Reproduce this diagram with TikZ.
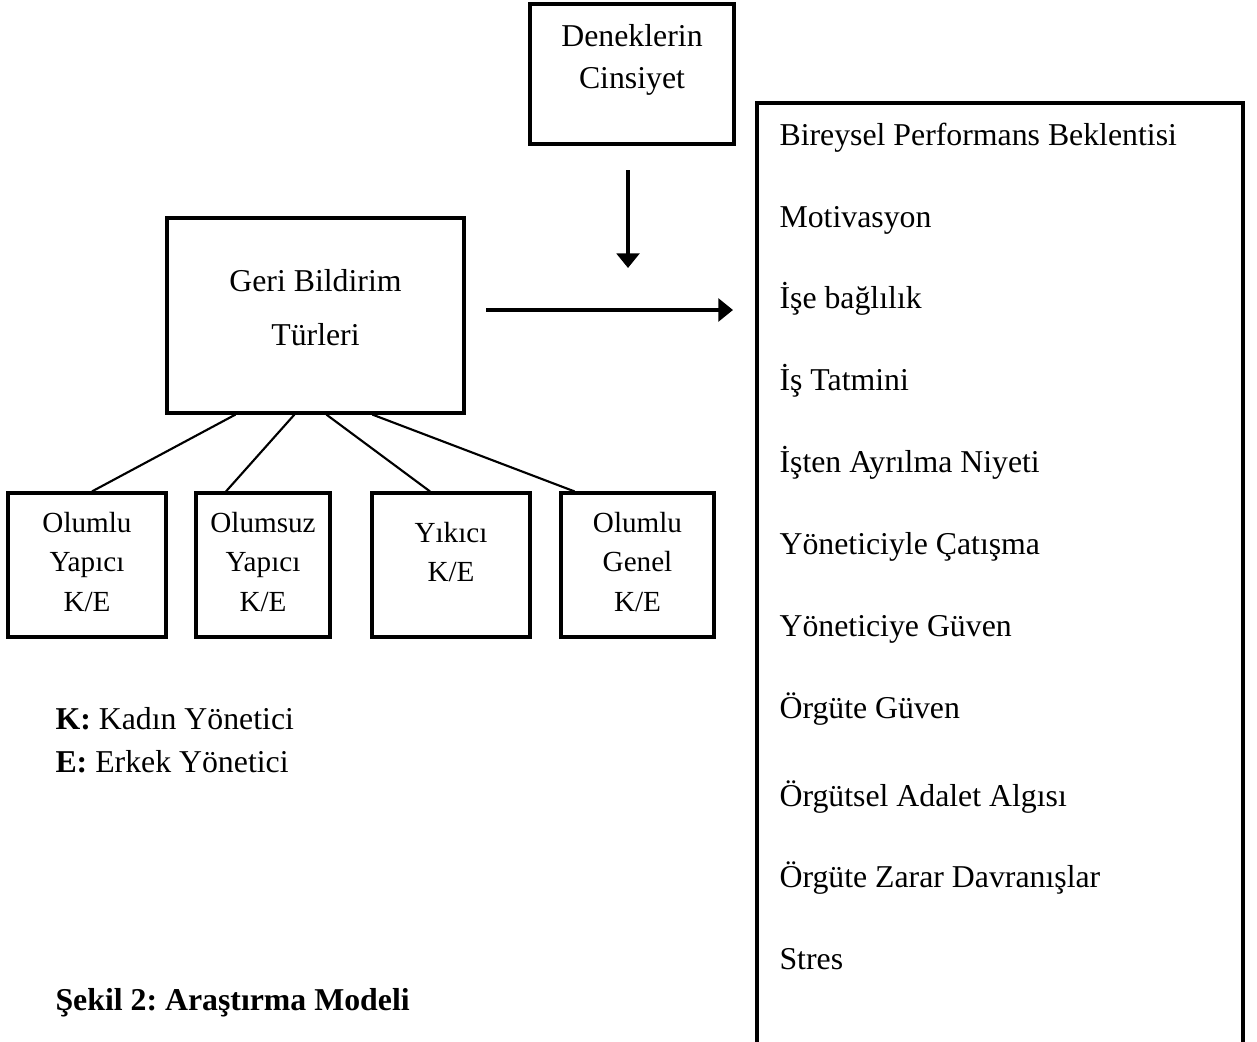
\documentclass[tikz,border=0pt]{standalone}
\usepackage{fontspec}
\setmainfont{Liberation Serif}
\usetikzlibrary{arrows.meta,positioning,calc,fit}

\begin{document}
\frenchspacing
\begin{tikzpicture}[
  x=0.3774pt, y=-0.3774pt,
  box/.style={rectangle, draw, line width=1.2pt, inner sep=0pt},
  boxtext/.style={align=center, inner sep=0pt, font=\fontsize{12}{15.8}\selectfont},
  typetext/.style={align=center, inner sep=0pt, font=\fontsize{11}{14.9}\selectfont},
  item/.style={anchor=west, inner sep=0pt, text height=9pt, text depth=1pt, font=\fontsize{12}{14}\selectfont},
  link/.style={line width=0.8pt},
  arrow/.style={-{Triangle[length=5.5pt,width=8.5pt]}, line width=1.5pt},
]
  \useasboundingbox (0,0) rectangle (1257,1041);
  \clip (0,0) rectangle (1257,1041);

  % top: gender of the subjects
  \node[box, fit={(530,4) (734,144)}] (gender) {};
  \node[boxtext] (gendertxt) at (632,60) {Deneklerin\\Cinsiyet};

  % feedback types
  \node[box, fit={(167,218) (464,413)}] (fb) {};
  \node[boxtext, font=\fontsize{12}{20.4}\selectfont] (fbtxt) at (315.5,308) {Geri Bildirim\\Türleri};

  \node[box, fit={(8,493) (166,637)}] (posc) {};
  \node[box, fit={(196,493) (330,637)}] (negc) {};
  \node[box, fit={(372,493) (530,637)}] (destr) {};
  \node[box, fit={(561,493) (714,637)}] (posg) {};
  \node[typetext] (posctxt) at (87,562) {Olumlu\\Yapıcı\\K/E};
  \node[typetext] (negctxt) at (263,562) {Olumsuz\\Yapıcı\\K/E};
  \node[typetext] (destrtxt) at (451,552) {Yıkıcı\\K/E};
  \node[typetext] (posgtxt) at (637.5,562) {Olumlu\\Genel\\K/E};

  \draw[link] ($(fb.south west)+(70,0)$) -- ($(posc.north)+(5,0)$);
  \draw[link] ($(fb.south west)+(129,0)$) -- ($(negc.north)+(-37,0)$);
  \draw[link] ($(fb.south west)+(161,0)$) -- ($(destr.north)+(-21,0)$);
  \draw[link] ($(fb.south west)+(207,0)$) -- ($(posg.north)+(-63,0)$);

  % outcome variables
  \node[box, fit={(757,103) (1243,1120)}] (outcomes) {};
  \foreach \y/\t [count=\i] in {135/Bireysel Performans Beklentisi, 217/Motivasyon,
      298/İşe bağlılık, 380/İş Tatmini, 462/İşten Ayrılma Niyeti,
      544/Yöneticiyle Çatışma, 626/Yöneticiye Güven, 708/Örgüte Güven,
      796/Örgütsel Adalet Algısı, 877/Örgüte Zarar Davranışlar, 959/Stres}
    \node[item] (var\i) at (779,\y) {\t};

  % arrows
  \coordinate (down1) at (628,170);
  \coordinate (down2) at (628,268);
  \coordinate (right1) at (486,310);
  \coordinate (right2) at (733,310);
  \draw[arrow] (down1) -- (down2);
  \draw[arrow] (right1) -- (right2);

  % legend and caption
  \node[item] (legk) at (55,719) {\textbf{K:} Kadın Yönetici};
  \node[item] (lege) at (55,762) {\textbf{E:} Erkek Yönetici};
  \node[item] (caption) at (55,1000) {\textbf{Şekil 2: Araştırma Modeli}};
\end{tikzpicture}
\end{document}
